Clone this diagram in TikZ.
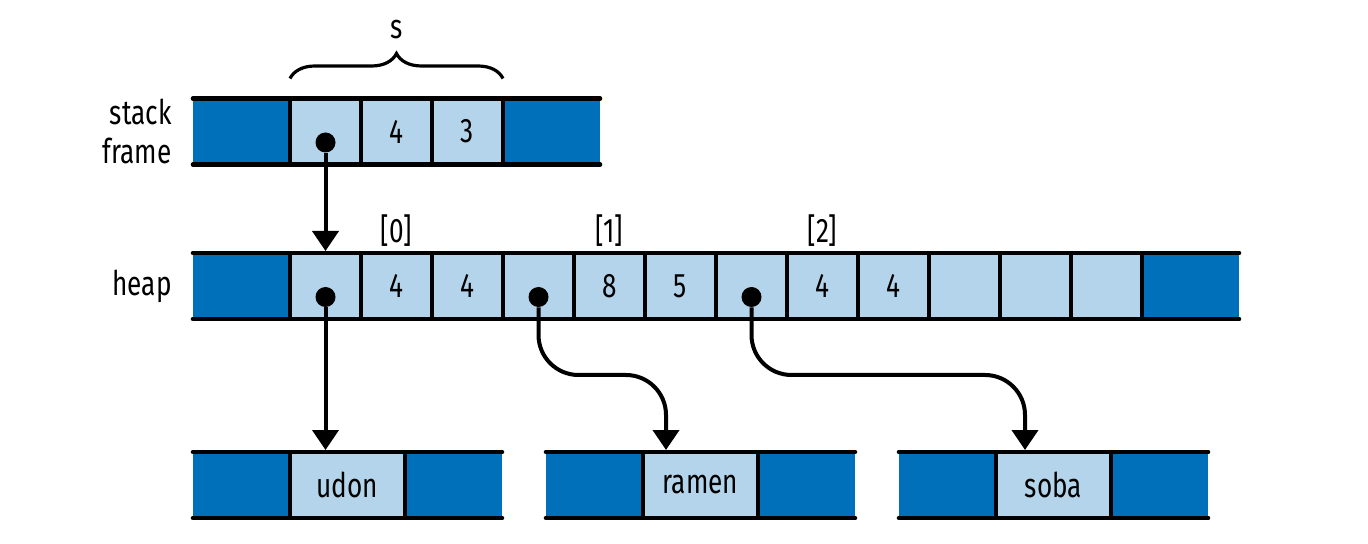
\documentclass[tikz,border=0pt]{standalone}
\usepackage{fontspec}
\setmainfont{Fira Sans}[FakeStretch=0.77]
\usetikzlibrary{arrows.meta,calc,positioning,decorations.pathreplacing}

\definecolor{cellblue}{RGB}{179,212,234}
\definecolor{endblue}{RGB}{0,112,187}

\tikzset{
  slot/.style={rectangle, fill=cellblue, minimum width=35.5pt, minimum height=33pt,
    inner sep=0pt, outer sep=0pt, font=\fontsize{17}{19.5}\selectfont},
  wideslot/.style={slot, minimum width=57.5pt},
  endcap/.style={slot, fill=endblue, minimum width=48.5pt},
  rail/.style={line width=2.3pt, line cap=round},
  divider/.style={line width=1.8pt},
  dot/.style={circle, fill=black, minimum size=10pt, inner sep=0pt},
  ptr/.style={line width=2pt, -{Triangle[width=13pt,length=10pt]}, shorten >=1pt},
  tag/.style={font=\fontsize{17}{19.5}\selectfont, inner sep=0pt}
}

\begin{document}
\begin{tikzpicture}[x=0.5pt, y=-0.5pt]
  \useasboundingbox (0,0) rectangle (1368,544);

  % stack frame
  \node[endcap] (sL) at (241.5,131.5) {};
  \node[slot, right=0pt of sL] (s1) {};
  \node[slot, right=0pt of s1] (s2) {4};
  \node[slot, right=0pt of s2] (s3) {3};
  \node[endcap, right=0pt of s3] (sR) {};
  \draw[rail] (sL.north west) -- (sR.north east);
  \draw[rail] (sL.south west) -- (sR.south east);
  \foreach \c in {s1,s2,s3,sR}
    \draw[divider] (\c.north west) -- (\c.south west);
  \node[tag, left=10.5pt of sL, align=right] (stackLbl) {stack\\frame};

  % the slice s
  \draw[decorate, decoration={brace, amplitude=12.5pt}, line width=1.6pt]
    ([yshift=10pt]s1.north west) -- ([yshift=10pt]s3.north east)
    node[tag, midway, above=19pt] (sLbl) {s};

  % heap
  \node[endcap] (hL) at (241.5,286) {};
  \foreach \v [count=\i, remember=\i as \j (initially L)] in
      {{},4,4,{},8,5,{},4,4,{},{},{}}
    \node[slot, right=0pt of h\j] (h\i) {\v};
  \node[endcap, right=0pt of h12] (hR) {};
  \draw[rail] (hL.north west) -- (hR.north east);
  \draw[rail] (hL.south west) -- (hR.south east);
  \foreach \i in {1,...,12}
    \draw[divider] (h\i.north west) -- (h\i.south west);
  \draw[divider] (hR.north west) -- (hR.south west);
  \node[tag, left=10.5pt of hL] (heapLbl) {heap};
  \node[tag, above=3pt of h2] (i0) {[0]};
  \node[tag, above=3pt of h5] (i1) {[1]};
  \node[tag, above=3pt of h8] (i2) {[2]};

  % strings
  \node[endcap] (uL) at (241.5,485) {};
  \node[wideslot, right=0pt of uL] (u) {udon};
  \node[endcap, right=0pt of u] (uR) {};
  \node[endcap] (rL) at (594.5,485) {};
  \node[wideslot, right=0pt of rL] (r) {ramen};
  \node[endcap, right=0pt of r] (rR) {};
  \node[endcap] (oL) at (947.5,485) {};
  \node[wideslot, right=0pt of oL] (o) {soba};
  \node[endcap, right=0pt of o] (oR) {};
  \foreach \a/\b/\c in {uL/u/uR, rL/r/rR, oL/o/oR} {
    \draw[rail] (\a.north west) -- (\c.north east);
    \draw[rail] (\a.south west) -- (\c.south east);
    \draw[divider] (\b.north west) -- (\b.south west);
    \draw[divider] (\c.north west) -- (\c.south west);
  }

  % pointers
  \node[dot, yshift=-5.5pt] (sp) at (s1) {};
  \node[dot, yshift=-5.5pt] (hp1) at (h1) {};
  \node[dot, yshift=-5.5pt] (hp2) at (h4) {};
  \node[dot, yshift=-5.5pt] (hp3) at (h7) {};
  \coordinate[xshift=11.5pt] (rIn) at (r.north west);
  \coordinate[xshift=14.5pt] (oIn) at (o.north west);
  \coordinate (bend) at (0,375);

  \draw[ptr] (sp) -- (sp |- h1.north);
  \draw[ptr] (hp1) -- (hp1 |- u.north);
  \draw[ptr, rounded corners=20pt] (hp2) |- (bend -| rIn) -- (rIn);
  \draw[ptr, rounded corners=20pt] (hp3) |- (bend -| oIn) -- (oIn);
\end{tikzpicture}
\end{document}
